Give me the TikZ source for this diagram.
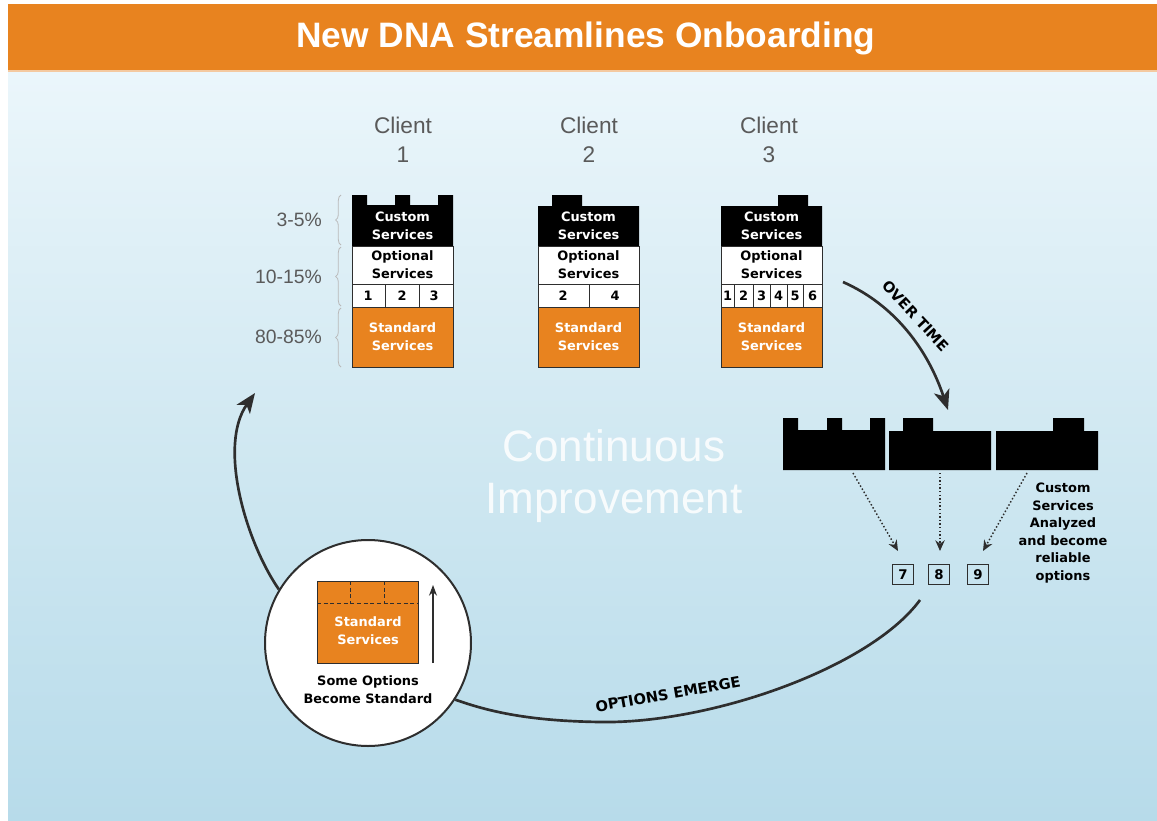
\documentclass[tikz,border=0pt]{standalone}
\usepackage{fontspec}
\setmainfont{Liberation Sans}
\newfontfamily\cm{DejaVu Sans}
\usetikzlibrary{arrows.meta,decorations.pathreplacing,calc}
\definecolor{orng}{HTML}{E8831F}
\definecolor{bgtop}{HTML}{EBF6FB}
\definecolor{bgmid}{HTML}{D2E9F2}
\definecolor{bgbot}{HTML}{B7DBEA}
\definecolor{lbl}{HTML}{5A5A5A}
\definecolor{ink}{HTML}{2E2E2E}
\definecolor{bandline}{HTML}{F4C9A0}
\begin{document}
\begin{tikzpicture}[x=0.75pt,y=-0.75pt,
  cmfont/.style={font=\cm\bfseries\fontsize{9.7}{13.5}\selectfont},
  boxtxt/.style={cmfont, align=center, inner sep=0pt},
  sect/.style={draw=ink, line width=0.6pt, inner sep=0pt, outer sep=0pt, minimum width=75.75pt, align=center, cmfont},
  optsec/.style={sect, fill=white, minimum height=28.5pt},
  numsec/.style={sect, fill=white, minimum height=17.25pt},
  stdsec/.style={sect, fill=orng, text=white, minimum height=45pt},
  numtxt/.style={cmfont, inner sep=0pt},
  pct/.style={font=\fontsize{14.5}{16}\selectfont, text=lbl, anchor=east, inner sep=0pt},
  clientlbl/.style={font=\fontsize{17}{21.75}\selectfont, text=lbl, align=center, inner sep=0pt},
  bigarrow/.style={draw=ink, line width=2pt, -{Stealth[length=15pt,width=12pt,inset=4pt]}},
  bigline/.style={draw=ink, line width=2pt},
  dotarrow/.style={draw=ink, line width=1.1pt, dash pattern=on 1.1pt off 1.6pt, -{Stealth[length=8pt,width=7pt]}},
  brc/.style={draw=gray!55, line width=0.6pt, decorate, decoration={brace, amplitude=4pt}},
  numbox/.style={draw=ink, line width=0.8pt, minimum width=15.5pt, minimum height=14.5pt, inner sep=0pt, font=\cm\bfseries\fontsize{10}{12}\selectfont},
  slogan/.style={font=\cm\bfseries\fontsize{11}{13}\selectfont, inner sep=0pt}
]
\useasboundingbox (0,0) rectangle (1157,821);
\fill[white] (0,0) rectangle (1157,821);
% background
\shade[top color=bgtop, bottom color=bgmid] (8,71) rectangle (1157,420);
\shade[top color=bgmid, bottom color=bgbot] (8,419.5) rectangle (1157,821);
% title band
\fill[orng] (8,4) rectangle (1157,70);
\fill[bandline] (8,70) rectangle (1157,72);
\node[text=white, font=\bfseries\fontsize{26.5}{30}\selectfont, inner sep=0pt] (title) at (586,38) {New DNA Streamlines Onboarding};

% client labels
\node[clientlbl] (cl1) at (403,140) {Client\\1};
\node[clientlbl] (cl2) at (589,140) {Client\\2};
\node[clientlbl] (cl3) at (769,140) {Client\\3};

% percent labels and braces
\node[pct] (p1) at (322,220) {3-5\%};
\node[pct] (p2) at (322,277) {10-15\%};
\node[pct] (p3) at (322,337) {80-85\%};
\draw[brc] (341,245) -- (341,195);
\draw[brc] (341,306) -- (341,247);
\draw[brc] (341,367) -- (341,308);

% ---------- client 1
\fill[black] (352,246) -- (352,195) -- (367,195) -- (367,205) -- (395,205) -- (395,195) -- (410,195) -- (410,205) -- (438,205) -- (438,195) -- (453,195) -- (453,246) -- cycle;
\node[boxtxt, text=white] (cu1) at (402.5,226) {Custom\\Services};
\node[optsec] (op1) at (402.5,265) {Optional\\Services};
\node[numsec] (nr1) at (402.5,295.5) {};
\node[stdsec] (st1) at (402.5,337) {Standard\\Services};
\draw[ink, line width=0.6pt] (385,284) -- (385,307) (419,284) -- (419,307);
\node[numtxt] (n11) at (368,296) {1};
\node[numtxt] (n12) at (402,296) {2};
\node[numtxt] (n13) at (434,296) {3};

% ---------- client 2
\fill[black] (538,246) -- (538,206) -- (552,206) -- (552,195) -- (582,195) -- (582,206) -- (639,206) -- (639,246) -- cycle;
\node[boxtxt, text=white] (cu2) at (588.5,226) {Custom\\Services};
\node[optsec] (op2) at (588.5,265) {Optional\\Services};
\node[numsec] (nr2) at (588.5,295.5) {};
\node[stdsec] (st2) at (588.5,337) {Standard\\Services};
\draw[ink, line width=0.6pt] (589,284) -- (589,307);
\node[numtxt] (n22) at (563,296) {2};
\node[numtxt] (n24) at (615,296) {4};

% ---------- client 3
\fill[black] (721,246) -- (721,206) -- (778,206) -- (778,195) -- (808,195) -- (808,206) -- (822,206) -- (822,246) -- cycle;
\node[boxtxt, text=white] (cu3) at (771.5,226) {Custom\\Services};
\node[optsec] (op3) at (771.5,265) {Optional\\Services};
\node[numsec] (nr3) at (771.5,295.5) {};
\node[stdsec] (st3) at (771.5,337) {Standard\\Services};
\foreach \xx in {734,753,770,787,803} \draw[ink, line width=0.6pt] (\xx,284) -- (\xx,307);
\node[numtxt] (n31) at (727.5,296) {1};
\node[numtxt] (n32) at (743.5,296) {2};
\node[numtxt] (n33) at (761.5,296) {3};
\node[numtxt] (n34) at (778.5,296) {4};
\node[numtxt] (n35) at (795,296) {5};
\node[numtxt] (n36) at (812.5,296) {6};

% Continuous improvement
\node[text=white, opacity=0.85, font=\fontsize{33}{39}\selectfont, align=center, inner sep=0pt] (ci) at (614,476) {Continuous\\Improvement};

% over time arrow
\coordinate (otS) at (843,282);
\coordinate (otE) at (948,410);
\draw[bigarrow] (otS) .. controls (895,305) and (928,350) .. (otE);
\node[slogan, rotate=-47] (ot) at (916,316) {OVER TIME};

% black blocks row
\fill[black] (783,470) -- (783,418) -- (798,418) -- (798,430) -- (827,430) -- (827,418) -- (842,418) -- (842,430) -- (870,430) -- (870,418) -- (885,418) -- (885,470) -- cycle;
\fill[black] (889,470) -- (889,431) -- (903,431) -- (903,418) -- (933,418) -- (933,431) -- (991,431) -- (991,470) -- cycle;
\fill[black] (996,470) -- (996,431) -- (1053,431) -- (1053,418) -- (1084,418) -- (1084,431) -- (1098,431) -- (1098,470) -- cycle;
\coordinate (b1) at (853,473);
\coordinate (b2) at (940,473);
\coordinate (b3) at (1027,473);
\coordinate (a7) at (898,551);
\coordinate (a8) at (940,551);
\coordinate (a9) at (983,551);
\draw[dotarrow] (b1) -- (a7);
\draw[dotarrow] (b2) -- (a8);
\draw[dotarrow] (b3) -- (a9);

\node[numbox] (o7) at (903,574.5) {7};
\node[numbox] (o8) at (939,574.5) {8};
\node[numbox] (o9) at (978,574.5) {9};
\node[align=center, inner sep=0pt, font=\cm\bfseries\fontsize{9.7}{13.2}\selectfont] (an) at (1063,533) {Custom\\Services\\Analyzed\\and become\\reliable\\options};

% circle
\node[circle, draw=ink, line width=1.5pt, fill=white, minimum size=154.5pt, inner sep=0pt] (circ) at (368,643) {};
\fill[orng] (317,581) rectangle (418,663);
\draw[ink, line width=0.5pt] (317,581) rectangle (418,663);
\draw[ink, line width=0.7pt, densely dashed] (317,603) -- (418,603) (350,581) -- (350,603) (384,581) -- (384,603);
\node[boxtxt, text=white] (cst) at (368,631) {Standard\\Services};
\coordinate (upS) at (433,663);
\coordinate (upE) at (433,585);
\draw[ink, line width=0.8pt, -{Stealth[length=8pt,width=6pt]}] (upS) -- (upE);
\node[boxtxt] (so) at (368,690) {Some Options\\Become Standard};

% options emerge curve
\coordinate (oeS) at (920,600);
\draw[bigline] (oeS) .. controls (870,668) and (710,724) .. (600,722) .. controls (530,721) and (490,712) .. (circ.-33);
\node[slogan, rotate=10] (oe) at (668,694) {OPTIONS EMERGE};

% back to clients arrow
\coordinate (backE) at (255,393);
\draw[bigarrow] (circ.149) .. controls (245,540) and (218,445) .. (backE);
\end{tikzpicture}
\end{document}
